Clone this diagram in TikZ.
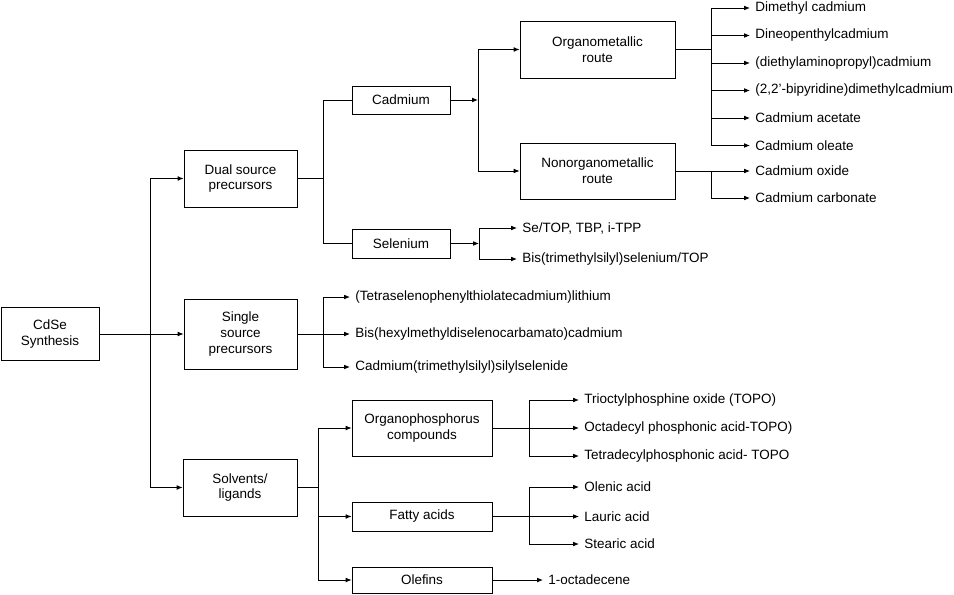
\documentclass[tikz,border=0pt]{standalone}
\usepackage{fontspec}
\setmainfont{Liberation Sans}
\usetikzlibrary{arrows.meta}
\begin{document}
\begin{tikzpicture}[
    x=0.03cm, y=-0.03cm,
    font=\fontsize{11.5}{13.6}\selectfont,
    block/.style={draw, align=center, inner sep=0pt},
    leaf/.style={anchor=west, inner xsep=0.15cm, inner ysep=0pt},
    >={Latex[length=5pt,width=4pt]},
    line width=0.7pt
]
\useasboundingbox (0,0) rectangle (954,595);

% Boxes
\node[block, minimum width=2.94cm, minimum height=1.59cm] (cdse) at (50,334) {CdSe\\Synthesis};
\node[block, minimum width=3.39cm, minimum height=1.71cm] (dual) at (240.5,178.5) {Dual source\\precursors};
\node[block, minimum width=3.39cm, minimum height=2.1cm] (single) at (240.5,334) {Single\\source\\precursors};
\node[block, minimum width=3.42cm, minimum height=1.71cm] (solvents) at (240,487.5) {Solvents/\\ligands};

\node[block, minimum width=2.94cm, minimum height=0.84cm] (cadmium) at (401,100) {Cadmium};
\node[block, minimum width=2.94cm, minimum height=0.87cm] (selenium) at (401,243.5) {Selenium};
\node[block, minimum width=4.65cm, minimum height=1.71cm] (organo) at (597.5,49.5) {Organometallic\\route};
\node[block, minimum width=4.65cm, minimum height=1.68cm] (nonorgano) at (597.5,171) {Nonorganometallic\\route};

\node[block, minimum width=4.2cm, minimum height=1.68cm] (phos) at (422,428) {Organophosphorus\\compounds};
\node[block, minimum width=4.2cm, minimum height=0.87cm] (fatty) at (422,516.5) {Fatty acids};
\node[block, minimum width=4.2cm, minimum height=0.78cm] (olefins) at (422,580) {Olefins};

% Leaves
\node[leaf] (om1) at (750,8) {Dimethyl cadmium};
\node[leaf] (om2) at (750,35.5) {Dineopenthylcadmium};
\node[leaf] (om3) at (750,63) {(diethylaminopropyl)cadmium};
\node[leaf] (om4) at (750,90.5) {(2,2'-bipyridine)dimethylcadmium};
\node[leaf] (om5) at (750,118) {Cadmium acetate};
\node[leaf] (om6) at (750,145.5) {Cadmium oleate};
\node[leaf] (nm1) at (750,171) {Cadmium oxide};
\node[leaf] (nm2) at (750,198) {Cadmium carbonate};

\node[leaf] (se1) at (517,228) {Se/TOP, TBP, i-TPP};
\node[leaf] (se2) at (517,259) {Bis(trimethylsilyl)selenium/TOP};

\node[leaf] (ss1) at (350,297) {(Tetraselenophenylthiolatecadmium)lithium};
\node[leaf] (ss2) at (350,334) {Bis(hexylmethyldiselenocarbamato)cadmium};
\node[leaf] (ss3) at (350,367) {Cadmium(trimethylsilyl)silylselenide};

\node[leaf] (op1) at (579,400) {Trioctylphosphine oxide (TOPO)};
\node[leaf] (op2) at (579,428) {Octadecyl phosphonic acid-TOPO)};
\node[leaf] (op3) at (579,456) {Tetradecylphosphonic acid- TOPO};
\node[leaf] (fa1) at (579,487) {Olenic acid};
\node[leaf] (fa2) at (579,516.5) {Lauric acid};
\node[leaf] (fa3) at (579,544) {Stearic acid};
\node[leaf] (ol1) at (543,580) {1-octadecene};

% Forks
\coordinate (mainfork) at (150,334);
\coordinate (dualfork) at (323,178.5);
\coordinate (cdfork) at (478,100);
\coordinate (omfork) at (711,49.5);
\coordinate (nmfork) at (711,171);
\coordinate (sefork) at (479,243.5);
\coordinate (ssfork) at (323,334);
\coordinate (svfork) at (318,487.5);
\coordinate (opfork) at (529,428);
\coordinate (fafork) at (529,516.5);

% --- CdSe synthesis ---
\draw (cdse.east) -- (mainfork);
\draw[->] (mainfork) |- (dual.west);
\draw[->] (mainfork) -- (single.west);
\draw[->] (mainfork) |- (solvents.west);

% --- Dual source ---
\draw (dual.east) -- (dualfork);
\draw (dualfork) |- (cadmium.west);
\draw (dualfork) |- (selenium.west);

\draw[->] (cadmium.east) -- (cdfork);
\draw[->] (cdfork) |- (organo.west);
\draw[->] (cdfork) |- (nonorgano.west);

\draw (organo.east) -- (omfork);
\foreach \i in {1,...,6}
    \draw[->] (omfork) |- (om\i.west);

\draw (nonorgano.east) -- (nmfork);
\draw[->] (nmfork) |- (nm1.west);
\draw[->] (nmfork) |- (nm2.west);

\draw[->] (selenium.east) -- (sefork);
\draw[->] (sefork) |- (se1.west);
\draw[->] (sefork) |- (se2.west);

% --- Single source ---
\draw (single.east) -- (ssfork);
\draw[->] (ssfork) |- (ss1.west);
\draw[->] (ssfork) -- (ss2.west);
\draw[->] (ssfork) |- (ss3.west);

% --- Solvents/ligands ---
\draw (solvents.east) -- (svfork);
\draw[->] (svfork) |- (phos.west);
\draw[->] (svfork) |- (fatty.west);
\draw[->] (svfork) |- (olefins.west);

\draw (phos.east) -- (opfork);
\draw[->] (opfork) |- (op1.west);
\draw[->] (opfork) -- (op2.west);
\draw[->] (opfork) |- (op3.west);

\draw (fatty.east) -- (fafork);
\draw[->] (fafork) |- (fa1.west);
\draw[->] (fafork) -- (fa2.west);
\draw[->] (fafork) |- (fa3.west);

\draw[->] (olefins.east) -- (ol1.west);

\end{tikzpicture}
\end{document}
